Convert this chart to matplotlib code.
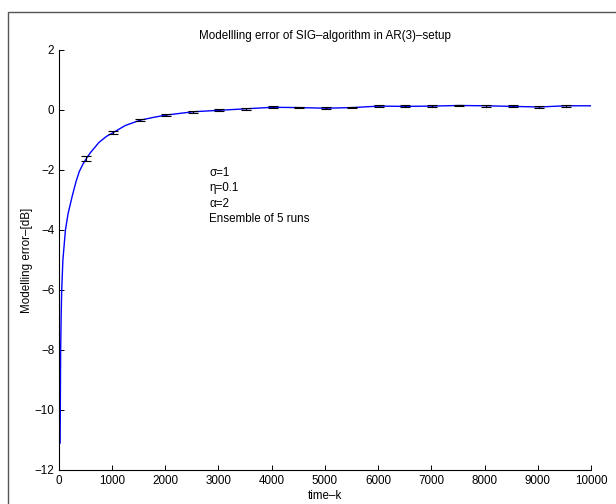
import matplotlib.pyplot as plt
from matplotlib.patches import Rectangle

plt.rcParams['font.family'] = ['Liberation Sans', 'DejaVu Sans']
plt.rcParams['font.size'] = 8.4

# ensemble-mean modelling error (dB) over time k
k = [30, 40, 50, 60, 82, 130, 180, 260, 330, 390, 460, 522, 600, 760, 900,
     1030, 1250, 1530, 1800, 2020, 2520, 3015, 3520, 4020, 4515, 5020, 5520,
     6020, 6507, 7019, 7521, 8028, 8528, 9023, 9530, 10000]
err_db = [-11.1, -8.0, -6.8, -6.0, -5.0, -4.0, -3.45, -2.85, -2.38, -2.05,
          -1.80, -1.62, -1.42, -1.08, -0.88, -0.75, -0.52, -0.34, -0.24, -0.17,
          -0.06, -0.01, 0.04, 0.09, 0.08, 0.06, 0.08, 0.13, 0.12, 0.13, 0.15,
          0.14, 0.12, 0.10, 0.14, 0.14]

# spread across the 5 runs at every 500 steps
k_bar = [522, 1030, 1530, 2020, 2520, 3015, 3520, 4020, 4515, 5020, 5520,
         6020, 6507, 7019, 7521, 8028, 8528, 9023, 9530]
mean_bar = [-1.62, -0.75, -0.34, -0.17, -0.06, -0.01, 0.04, 0.09, 0.08, 0.06,
            0.08, 0.13, 0.12, 0.13, 0.15, 0.14, 0.12, 0.10, 0.14]
std_bar = [0.07, 0.05, 0.04, 0.04, 0.03, 0.03, 0.03, 0.03, 0.03, 0.03, 0.03,
           0.03, 0.03, 0.03, 0.03, 0.03, 0.03, 0.03, 0.03]

params = ['σ=1', 'η=0.1', 'α=2', 'Ensemble of 5 runs']

fig = plt.figure(figsize=(6.16, 5.04), dpi=100)
ax = fig.add_axes([0.095, 0.0675, 0.8645, 0.8333])

ax.plot(k, err_db, color='#0000ff', lw=1.0)
ax.errorbar(k_bar, mean_bar, yerr=std_bar, fmt='none', ecolor='black',
            elinewidth=0.8, capsize=3.6, capthick=0.8)

for i, s in enumerate(params):
    ax.text(2826, -2.1 - 0.51 * i, s, va='center', ha='left')

ax.set_xlim(0, 10000)
ax.set_ylim(-12, 2)
ax.set_xticks(range(0, 10001, 1000))
ax.set_yticks(range(-12, 3, 2))
ax.spines['top'].set_visible(False)
ax.spines['right'].set_visible(False)
ax.tick_params(direction='in', length=3.5, width=0.7)
ax.tick_params(axis='x', pad=3.5)
ax.tick_params(axis='y', pad=3)
for sp in ax.spines.values():
    sp.set_linewidth(0.8)

ax.set_title('Modellling error of SIG–algorithm in AR(3)–setup',
             fontsize=8.4, pad=8)
ax.set_xlabel('time–k', labelpad=2)
ax.set_ylabel('Modelling error–[dB]', labelpad=1)

# outer figure border
fig.patches.append(Rectangle((8 / 616, -0.2), 1.2, 1.2 - 12 / 504,
                             transform=fig.transFigure, fill=False,
                             edgecolor='#555555', lw=1.0))

fig.savefig('out.png', dpi=100)
